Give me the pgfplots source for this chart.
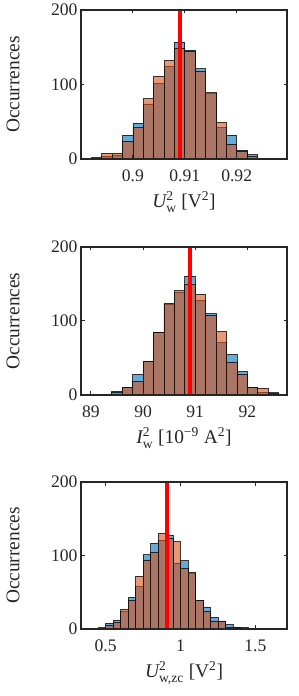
\documentclass[border=0pt]{standalone}
\usepackage{fontspec}
\setmainfont{Liberation Serif}
\usepackage{amsmath}
\usepackage{pgfplots}
\pgfplotsset{compat=1.18}
\definecolor{mblue}{rgb}{0,0.447,0.741}
\definecolor{morange}{rgb}{0.85,0.325,0.098}
\definecolor{axgray}{rgb}{0.15,0.15,0.15}
\pgfplotsset{
  panel/.style={
    scale only axis, width=206pt, anchor=south west,
    ymin=0, ymax=200, ytick={0,100,200},
    axis line style={axgray, line width=1.8pt},
    tick style={axgray, line width=1pt},
    major tick length=3.5pt,
    tick align=inside,
    axis on top,
    scaled ticks=false,
    /pgf/number format/assume math mode=true,
    ticklabel style={font=\fontsize{17.6}{20}\selectfont, text=axgray},
    xticklabel style={yshift=-7pt},
    xlabel style={font=\fontsize{19.4}{22}\selectfont, text=axgray, yshift=-3pt},
    ylabel={Occurrences},
    every axis y label/.style={at={(axis description cs:0,0.5)}, xshift=-68pt, rotate=90, anchor=center, font=\fontsize{19.4}{22}\selectfont, text=axgray},
  },
  bblue/.style={ybar interval, fill=mblue, fill opacity=0.6, draw=black, draw opacity=0.75, line width=0.7pt},
  borange/.style={ybar interval, fill=morange, fill opacity=0.6, draw=black, draw opacity=0.75, line width=0.7pt},
  redline/.style={red, line width=4pt},
}
\begin{document}
\begin{tikzpicture}
\useasboundingbox (0,0) rectangle (299pt,696pt);
% ---------- panel 1 ----------
\begin{axis}[panel, at={(81pt,537pt)}, height=149pt,
  xmin=0.89, xmax=0.9297, xtick={0.9,0.91,0.92},
  xlabel={$\textit{U}^{\text{2}}_{\text{w}}$ [V$^{\text{2}}$]}]
\addplot[bblue] table {
x y
0.892 2
0.894 4
0.896 5
0.898 32
0.900 48
0.902 74
0.904 102
0.906 124
0.908 157
0.910 146
0.912 121
0.914 88
0.916 42
0.918 32
0.920 12
0.922 6
0.924 1
0.926 1
0.928 0
};
\addplot[borange] table {
x y
0.892 1
0.894 8
0.896 8
0.898 24
0.900 42
0.902 81
0.904 111
0.906 132
0.908 149
0.910 144
0.912 118
0.914 89
0.916 49
0.918 20
0.920 10
0.922 3
0.924 1
0.926 1
0.928 0
};
\addplot[redline] coordinates {(0.9091,0) (0.9091,200)};
\end{axis}
% ---------- panel 2 ----------
\begin{axis}[panel, at={(81pt,301pt)}, height=148pt,
  xmin=88.81, xmax=92.76, xtick={89,90,91,92},
  xlabel={$\textit{I}^{\text{2}}_{\text{w}}$ [10$^{\text{−9}}$ A$^{\text{2}}$]}]
\addplot[bblue] table {
x y
89.0 0
89.2 1
89.4 5
89.6 10
89.8 28
90.0 45
90.2 84
90.4 123
90.6 139
90.8 161
91.0 128
91.2 110
91.4 71
91.6 55
91.8 32
92.0 10
92.2 4
92.4 3
92.6 0
};
\addplot[borange] table {
x y
89.0 0
89.2 1
89.4 3
89.6 10
89.8 18
90.0 45
90.2 84
90.4 124
90.6 141
90.8 149
91.0 136
91.2 108
91.4 86
91.6 44
91.8 28
92.0 10
92.2 9
92.4 2
92.6 0
};
\addplot[redline] coordinates {(90.895,0) (90.895,200)};
\end{axis}
% ---------- panel 3 ----------
\begin{axis}[panel, at={(81pt,67pt)}, height=147pt,
  xmin=0.336, xmax=1.711, xtick={0.5,1,1.5},
  xlabel={$\textit{U}^{\text{2}}_{\text{w,zc}}$ [V$^{\text{2}}$]}]
\addplot[bblue] table {
x y
0.45 1
0.50 8
0.55 12
0.60 24
0.65 43
0.70 58
0.75 101
0.80 117
0.85 121
0.90 128
0.95 90
1.00 93
1.05 76
1.10 39
1.15 30
1.20 16
1.25 11
1.30 6
1.35 2
1.40 1
1.45 0
};
\addplot[borange] table {
x y
0.45 2
0.50 5
0.55 9
0.60 27
0.65 39
0.70 72
0.75 94
0.80 104
0.85 130
0.90 124
0.95 119
1.00 82
1.05 77
1.10 39
1.15 24
1.20 11
1.25 11
1.30 2
1.35 2
1.40 2
1.45 0
};
\addplot[redline] coordinates {(0.91,0) (0.91,200)};
\end{axis}
\end{tikzpicture}
\end{document}
